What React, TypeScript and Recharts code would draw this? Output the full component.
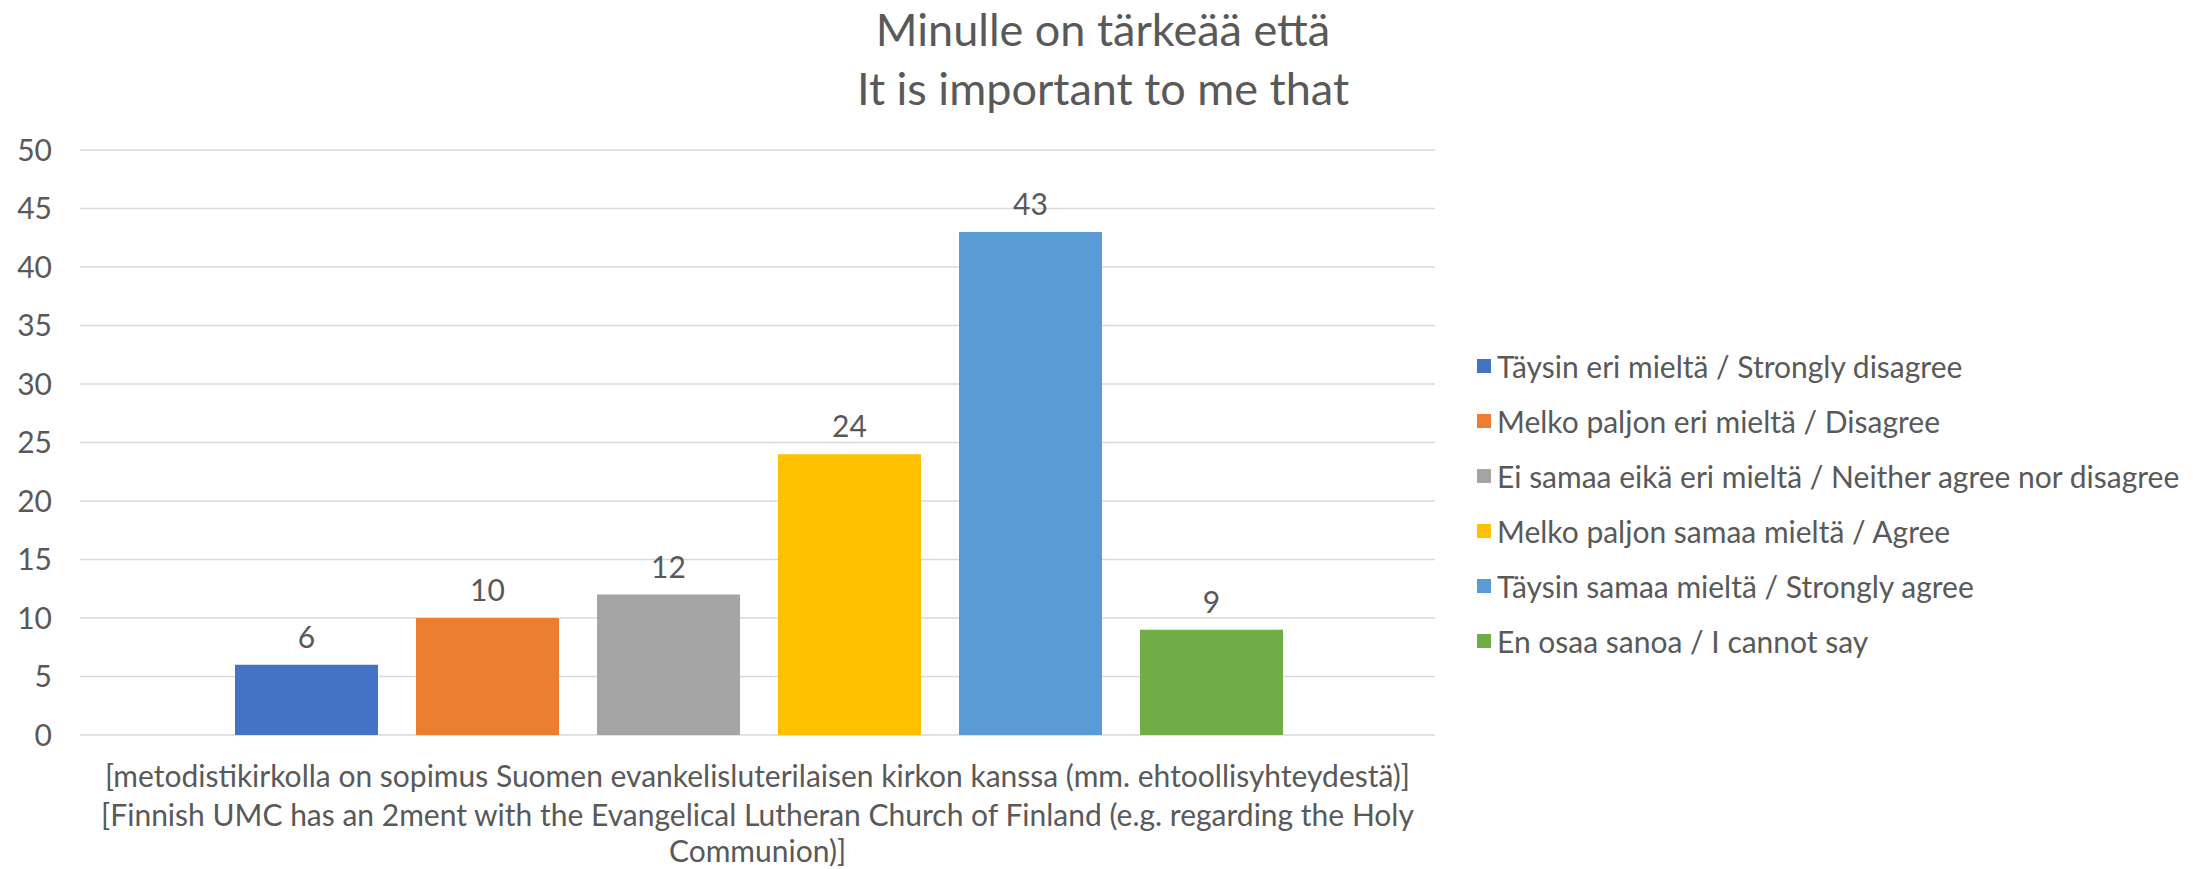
import { BarChart, Bar, XAxis, YAxis, CartesianGrid, Legend } from "recharts"

const categoryLines = [
  "[metodistikirkolla on sopimus Suomen evankelisluterilaisen kirkon kanssa (mm. ehtoollisyhteydestä)]",
  "[Finnish UMC has an 2ment with the Evangelical Lutheran Church of Finland (e.g. regarding the Holy",
  "Communion)]",
]
const seriesNames = [
  "Täysin eri mieltä / Strongly disagree",
  "Melko paljon eri mieltä / Disagree",
  "Ei samaa eikä eri mieltä / Neither agree nor disagree",
  "Melko paljon samaa mieltä / Agree",
  "Täysin samaa mieltä / Strongly agree",
  "En osaa sanoa / I cannot say",
]
const seriesValues = [6, 10, 12, 24, 43, 9]
const seriesColors = ["#4472C4", "#ED7D31", "#A5A5A5", "#FFC000", "#5B9BD5", "#70AD47"]
const yTicks = [0, 5, 10, 15, 20, 25, 30, 35, 40, 45, 50]
const titleLines = ["Minulle on tärkeää että", "It is important to me that"]

const FONT = "Lato, 'Open Sans', sans-serif"
const TEXT = "#595959"
const FS = 30

const row: Record<string, string | number> = { name: categoryLines.join(" ") }
seriesNames.forEach((n, i) => {
  row["s" + i] = seriesValues[i]
})
const data = [row]

// category label is wrapped on three lines like in the original
function CategoryTick(props: any) {
  const { x, y } = props
  const offsets = [40, 79, 115]
  return (
    <g>
      {categoryLines.map((line, i) => (
        <text
          key={i}
          x={x}
          y={y + offsets[i]}
          textAnchor="middle"
          dominantBaseline="central"
          fill={TEXT}
          fontSize={FS}
          fontFamily={FONT}
        >
          {line}
        </text>
      ))}
    </g>
  )
}

function renderLegend() {
  return (
    <div>
      {seriesNames.map((n, i) => (
        <div
          key={n}
          style={{ display: "flex", alignItems: "center", height: 55, fontFamily: FONT, fontSize: FS, color: TEXT, whiteSpace: "nowrap" }}
        >
          <span style={{ width: 14, height: 14, background: seriesColors[i], marginRight: 6, display: "inline-block", flexShrink: 0 }} />
          <span>{n}</span>
        </div>
      ))}
    </div>
  )
}

export default function App() {
  return (
    <div style={{ position: "absolute", left: 0, top: 0, width: 2206, height: 869, background: "#fff" }}>
      <div
        style={{
          position: "absolute",
          left: 0,
          width: 2206,
          top: 0,
          textAlign: "center",
          fontFamily: FONT,
          fontSize: 45,
          color: TEXT,
          lineHeight: "59px",
        }}
      >
        {titleLines.map((t) => (
          <div key={t}>{t}</div>
        ))}
      </div>
      <BarChart
        width={2206}
        height={869}
        data={data}
        margin={{ top: 150, right: 51, bottom: 0, left: 0 }}
        barCategoryGap={155}
        barGap={38}
      >
        <CartesianGrid horizontal vertical={false} stroke="#D9D9D9" strokeWidth={1.5} />
        <XAxis
          dataKey="name"
          axisLine={false}
          tickLine={false}
          tickSize={0}
          tickMargin={0}
          height={134}
          tick={<CategoryTick />}
          interval={0}
        />
        <YAxis
          domain={[0, 50]}
          ticks={yTicks}
          axisLine={false}
          tickLine={false}
          tickSize={0}
          tickMargin={28}
          width={80}
          tick={{ fill: TEXT, fontSize: FS, fontFamily: FONT }}
        />
        <Legend
          layout="vertical"
          align="right"
          verticalAlign="middle"
          content={renderLegend}
          wrapperStyle={{ position: "absolute", left: 1477, top: 338, width: 720 }}
        />
        {seriesNames.map((n, i) => (
          <Bar
            key={n}
            dataKey={"s" + i}
            name={n}
            fill={seriesColors[i]}
            isAnimationActive={false}
            label={(p: any) => (
              <text
                x={p.x + p.width / 2}
                y={p.y - 29}
                textAnchor="middle"
                dominantBaseline="central"
                fill={TEXT}
                fontSize={FS}
                fontFamily={FONT}
              >
                {p.value}
              </text>
            )}
          />
        ))}
      </BarChart>
    </div>
  )
}
